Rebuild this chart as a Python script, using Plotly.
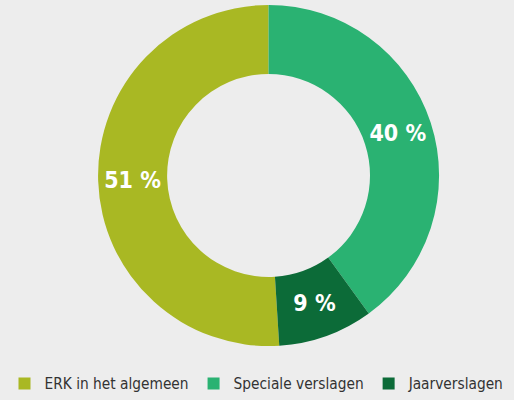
import plotly.graph_objects as go

labels = ["ERK in het algemeen", "Speciale verslagen", "Jaarverslagen"]
values = [51, 40, 9]
colors = ["#a9b823", "#2ab272", "#0c6b38"]

FONT = "DejaVu Sans Condensed, Liberation Sans Narrow, sans-serif"

fig = go.Figure(go.Pie(
    labels=labels,
    values=values,
    hole=0.595,
    sort=False,
    direction="clockwise",
    rotation=360 * (values[1] + values[2]) / sum(values),
    marker=dict(colors=colors, line=dict(width=0)),
    texttemplate="<b>%{value} %</b>",
    textposition="inside",
    insidetextorientation="horizontal",
    textfont=dict(family=FONT, size=23, color="white"),
    domain=dict(x=[0.18, 0.865], y=[0.135, 0.9875]),
    hoverinfo="label+percent",
))

fig.update_layout(
    width=514, height=400,
    margin=dict(l=0, r=0, t=0, b=0),
    paper_bgcolor="#ededed",
    plot_bgcolor="#ededed",
    showlegend=True,
    legend=dict(
        orientation="h", x=0.5, xanchor="center", y=0.0, yanchor="bottom",
        bgcolor="rgba(0,0,0,0)",
        font=dict(family=FONT, size=15.3, color="#333333"),
        itemclick=False,
    ),
)

fig.write_html(
    "out.html",
    config={"displayModeBar": False},
    post_script="document.body.style.margin='0';document.body.style.background='#ededed';",
)
